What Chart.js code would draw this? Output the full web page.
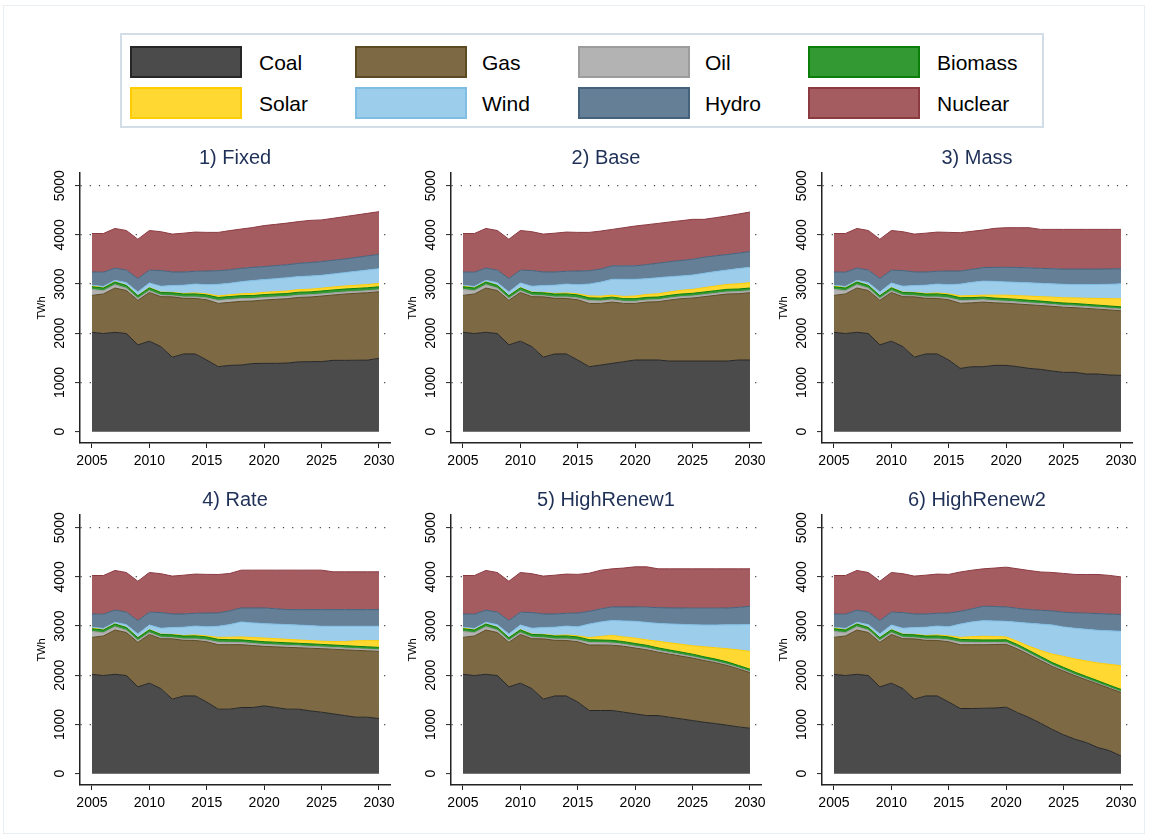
<!DOCTYPE html>
<html>
<head>
<meta charset="utf-8">
<title>Generation mix by scenario</title>
<script src="https://cdn.jsdelivr.net/npm/chart.js@4.4.1/dist/chart.umd.min.js"></script>
<style>
  body { margin: 0; background: #fff; font-family: "Liberation Sans", Arial, Helvetica, sans-serif; }
  #page { position: relative; width: 1149px; height: 838px; overflow: hidden; background: #fff; }
  #frame { position: absolute; left: 3px; top: 5px; width: 1142px; height: 829px; border: 1px solid #e8eef1; box-sizing: border-box; }
  #legend { position: absolute; left: 120px; top: 33px; width: 924px; height: 95px; border: 2px solid #d3dde8; box-sizing: border-box; }
  .sw { position: absolute; width: 112px; height: 32px; border: 2px solid; box-sizing: border-box; }
  .lb { position: absolute; font-size: 21px; line-height: 24px; color: #000; }
  canvas { position: absolute; }
</style>
</head>
<body>
<div id="page">
  <div id="frame"></div>
  <div id="legend"></div>
</div>
<script>
const years = [2005, 2006, 2007, 2008, 2009, 2010, 2011, 2012, 2013, 2014, 2015, 2016, 2017,
  2018, 2019, 2020, 2021, 2022, 2023, 2024, 2025, 2026, 2027, 2028, 2029, 2030];
const scenarios = ['1) Fixed', '2) Base', '3) Mass', '4) Rate', '5) HighRenew1', '6) HighRenew2'];
const sources = ['Coal', 'Gas', 'Oil', 'Biomass', 'Solar', 'Wind', 'Hydro', 'Nuclear'];
const yTicks = [0, 1000, 2000, 3000, 4000, 5000];
const xTicks = [2005, 2010, 2015, 2020, 2025, 2030];

// history 2005-2015, same in every scenario (TWh)
const histCoal = [2020, 1995, 2020, 1995, 1765, 1840, 1730, 1515, 1580, 1580, 1457];
const histGas = [750, 805, 900, 875, 905, 990, 1014, 1226, 1130, 1128, 1225];
const histOil = [122, 64, 66, 46, 39, 37, 30, 23, 27, 30, 35];
const histBiomass = [54, 55, 55, 55, 54, 56, 56, 58, 60, 63, 62];
const histSolar = [12, 6, 3, 3, 3, 4, 6, 8, 12, 18, 22];
const histWind = [18, 27, 34, 55, 74, 95, 120, 141, 168, 182, 185];
const histHydro = [270, 289, 247, 254, 273, 260, 319, 276, 269, 259, 280];
const histNuclear = [782, 787, 806, 806, 799, 807, 790, 769, 789, 797, 785];

// projections 2016-2030, one row per scenario
const coalProj = [
  [1321, 1348, 1355, 1385, 1389, 1389, 1395, 1420, 1423, 1425, 1450, 1450, 1452, 1455, 1490],
  [1321, 1355, 1389, 1423, 1457, 1457, 1457, 1436, 1436, 1436, 1436, 1436, 1436, 1457, 1457],
  [1287, 1321, 1321, 1348, 1348, 1321, 1287, 1267, 1233, 1206, 1206, 1172, 1172, 1152, 1145],
  [1311, 1311, 1345, 1345, 1379, 1345, 1311, 1311, 1277, 1250, 1216, 1182, 1148, 1148, 1121],
  [1284, 1284, 1284, 1250, 1216, 1182, 1182, 1148, 1114, 1080, 1046, 1019, 985, 951, 924],
  [1325, 1325, 1330, 1335, 1352, 1240, 1141, 1026, 900, 790, 700, 632, 530, 469, 360]
];
const gasProj = [
  [1287, 1281, 1294, 1271, 1287, 1301, 1308, 1310, 1314, 1332, 1328, 1348, 1360, 1370, 1355],
  [1287, 1253, 1246, 1185, 1151, 1178, 1185, 1240, 1267, 1281, 1308, 1335, 1362, 1348, 1368],
  [1323, 1299, 1314, 1272, 1262, 1274, 1293, 1298, 1315, 1324, 1314, 1333, 1318, 1323, 1313],
  [1311, 1311, 1277, 1260, 1209, 1233, 1257, 1249, 1273, 1291, 1314, 1336, 1359, 1349, 1365],
  [1331, 1331, 1328, 1340, 1338, 1338, 1288, 1282, 1276, 1270, 1254, 1236, 1215, 1179, 1131],
  [1296, 1296, 1291, 1290, 1278, 1294, 1277, 1274, 1281, 1295, 1291, 1273, 1291, 1266, 1290]
];
const oilProj = [
  [60, 58, 55, 52, 50, 48, 46, 45, 44, 43, 42, 41, 40, 40, 40],
  [55, 50, 45, 42, 41, 41, 41, 41, 41, 41, 41, 41, 41, 41, 41],
  [55, 50, 45, 42, 40, 40, 38, 38, 36, 36, 35, 35, 34, 34, 33],
  [50, 46, 43, 41, 40, 40, 39, 38, 37, 36, 35, 35, 34, 34, 33],
  [50, 46, 43, 40, 38, 36, 34, 32, 30, 28, 26, 25, 24, 22, 20],
  [50, 46, 43, 40, 38, 35, 32, 30, 27, 25, 22, 20, 18, 16, 15]
];
const biomassProj = [
  [60, 60, 60, 60, 60, 60, 60, 60, 60, 60, 60, 60, 60, 60, 60],
  [58, 56, 55, 54, 54, 54, 54, 54, 54, 54, 54, 54, 54, 54, 54],
  [58, 56, 55, 54, 54, 54, 52, 52, 50, 50, 50, 48, 48, 46, 46],
  [58, 56, 55, 54, 54, 54, 53, 52, 52, 51, 50, 50, 49, 48, 48],
  [58, 56, 55, 54, 54, 54, 53, 52, 52, 51, 50, 50, 49, 48, 48],
  [58, 56, 55, 54, 54, 54, 53, 52, 52, 51, 50, 50, 49, 48, 48]
];
const solarProj = [
  [32, 35, 38, 42, 45, 48, 50, 52, 55, 57, 60, 62, 64, 66, 68],
  [39, 40, 40, 45, 55, 60, 65, 70, 75, 80, 88, 95, 100, 105, 110],
  [37, 39, 40, 59, 71, 76, 85, 90, 101, 106, 113, 124, 136, 149, 163],
  [40, 50, 60, 68, 75, 72, 70, 68, 66, 65, 70, 80, 110, 125, 137],
  [42, 73, 100, 96, 109, 110, 133, 146, 158, 171, 204, 230, 267, 315, 363],
  [41, 62, 73, 69, 57, 67, 85, 123, 172, 223, 268, 315, 361, 423, 482]
];
const windProj = [
  [235, 235, 247, 262, 260, 264, 270, 265, 268, 262, 266, 272, 283, 295, 300],
  [241, 286, 321, 347, 338, 320, 328, 309, 292, 292, 293, 294, 292, 310, 310],
  [240, 270, 285, 280, 270, 270, 270, 270, 270, 273, 272, 278, 284, 291, 305],
  [226, 256, 304, 297, 293, 296, 300, 302, 305, 303, 311, 313, 296, 292, 292],
  [275, 295, 305, 325, 342, 355, 365, 385, 405, 425, 442, 462, 485, 512, 544],
  [270, 300, 319, 317, 318, 388, 470, 535, 592, 599, 624, 645, 665, 682, 699]
];
const hydroProj = [
  [277, 275, 271, 268, 265, 265, 264, 270, 274, 278, 278, 277, 282, 287, 291],
  [271, 265, 275, 275, 275, 285, 295, 305, 315, 320, 325, 320, 315, 315, 319],
  [265, 265, 275, 285, 297, 303, 305, 305, 307, 310, 315, 315, 313, 313, 307],
  [271, 280, 285, 304, 319, 312, 305, 315, 325, 339, 339, 339, 339, 339, 339],
  [260, 265, 275, 285, 293, 310, 320, 325, 333, 340, 343, 343, 343, 353, 373],
  [260, 265, 292, 293, 293, 282, 278, 282, 285, 298, 313, 327, 341, 341, 340]
];
const nuclearProj = [
  [779, 795, 799, 809, 833, 839, 847, 848, 857, 847, 853, 861, 863, 865, 868],
  [779, 773, 741, 775, 809, 812, 809, 807, 809, 812, 771, 775, 784, 794, 806],
  [780, 772, 764, 793, 804, 808, 816, 792, 800, 807, 807, 807, 807, 804, 800],
  [782, 759, 768, 768, 768, 785, 802, 802, 802, 802, 768, 768, 768, 768, 768],
  [775, 785, 774, 790, 815, 820, 789, 794, 796, 799, 799, 799, 796, 784, 761],
  [800, 785, 761, 782, 808, 804, 794, 778, 781, 789, 781, 787, 794, 785, 766]
];

const fillColors = ['#4b4b4b', '#7d6a45', '#b3b3b3', '#339933', '#ffd932', '#9ccdeb', '#647f96', '#a45c60'];
const lineColors = ['#262626', '#5b4a22', '#9c9c9c', '#0b7d0b', '#ffcc00', '#80bde3', '#45627c', '#8c3a42'];

const history = [histCoal, histGas, histOil, histBiomass, histSolar, histWind, histHydro, histNuclear];
const projections = [coalProj, gasProj, oilProj, biomassProj, solarProj, windProj, hydroProj, nuclearProj];

Chart.defaults.font.family = '"Liberation Sans", Arial, Helvetica, sans-serif';

const page = document.getElementById('page');

// legend (html, 4 columns x 2 rows)
const swatchX = [130, 355, 578, 808];
const labelX = [259, 482, 705, 937];
const rowY = [46, 87];
sources.forEach((name, i) => {
  const col = i % 4, row = Math.floor(i / 4);
  const sw = document.createElement('div');
  sw.className = 'sw';
  sw.style.left = swatchX[col] + 'px';
  sw.style.top = rowY[row] + 'px';
  sw.style.background = fillColors[i];
  sw.style.borderColor = lineColors[i];
  page.appendChild(sw);
  const lb = document.createElement('div');
  lb.className = 'lb';
  lb.textContent = name;
  lb.style.left = labelX[col] + 'px';
  lb.style.top = (rowY[row] + 5) + 'px';
  page.appendChild(lb);
});

function panelChart(s) {
  const col = s % 3, row = Math.floor(s / 3);
  const cv = document.createElement('canvas');
  cv.width = 395;
  cv.height = 350;
  cv.style.left = (10 + 371 * col) + 'px';
  cv.style.top = (133 + 342 * row) + 'px';
  page.appendChild(cv);

  const datasets = sources.map((name, i) => ({
    label: name,
    data: history[i].concat(projections[i][s]),
    fill: i === 0 ? 'origin' : '-1',
    backgroundColor: fillColors[i],
    borderColor: lineColors[i],
    borderWidth: 1,
    pointRadius: 0,
    tension: 0
  }));

  return new Chart(cv, {
    type: 'line',
    data: { labels: years, datasets: datasets },
    options: {
      responsive: false,
      animation: false,
      devicePixelRatio: 1,
      // right padding larger than the x-label overhang, so the plot keeps its width
      layout: { padding: { left: 25, right: 15, top: 0, bottom: 5 } },
      plugins: {
        legend: { display: false },
        tooltip: { enabled: false },
        title: {
          display: true,
          fullSize: false,
          text: scenarios[s],
          color: '#1f3057',
          font: { size: 20, weight: 'normal' },
          padding: { top: 13, bottom: 3 }
        }
      },
      scales: {
        x: {
          type: 'linear',
          min: 2003.96,
          max: 2030.96,
          afterBuildTicks: sc => { sc.ticks = xTicks.map(v => ({ value: v })); },
          afterFit: sc => { sc.height = 35; },
          ticks: {
            color: '#000',
            font: { size: 14 },
            padding: 5,
            maxRotation: 0,
            autoSkip: false,
            callback: v => String(v)
          },
          grid: { drawOnChartArea: false, drawTicks: true, tickLength: 5, tickColor: '#222', tickWidth: 1 },
          border: { display: true, color: '#222', width: 1.5 }
        },
        y: {
          type: 'linear',
          stacked: true,
          min: -230,
          max: 5258,
          afterBuildTicks: sc => { sc.ticks = yTicks.map(v => ({ value: v })); },
          afterFit: sc => { sc.width = 45; },
          title: {
            display: true,
            text: 'TWh',
            color: '#000',
            font: { size: 11 },
            padding: { top: 0, bottom: 0 }
          },
          ticks: {
            color: '#000',
            font: { size: 14 },
            minRotation: 90,
            maxRotation: 90,
            crossAlign: 'center',
            padding: -1,
            autoSkip: false,
            callback: v => String(v)
          },
          grid: {
            color: c => (c.tick && c.tick.value > 0) ? '#444' : 'rgba(0,0,0,0)',
            lineWidth: 1.2,
            drawTicks: true,
            tickLength: 5,
            tickColor: '#222',
            tickWidth: 1,
            tickBorderDash: []
          },
          border: { display: true, color: '#222', width: 1.5, dash: [1.2, 8] }
        }
      }
    }
  });
}

scenarios.forEach((name, s) => panelChart(s));
</script>
</body>
</html>
